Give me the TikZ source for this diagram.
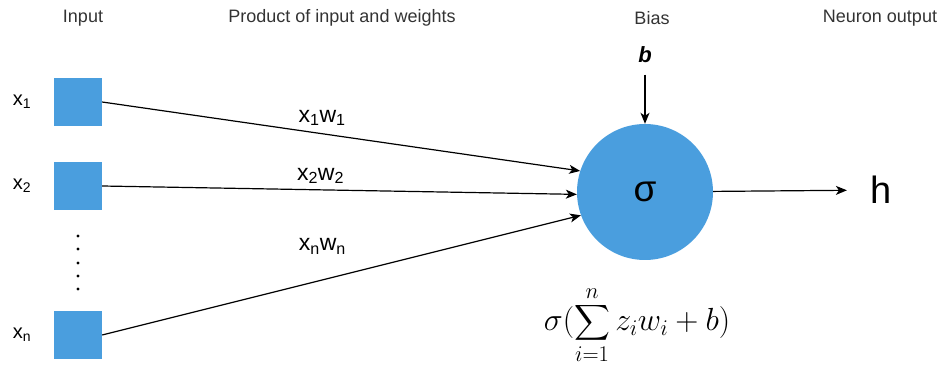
\RequirePackage{fix-cm}
\documentclass[tikz,border=0pt]{standalone}
\usepackage{amsmath}
\usepackage[no-math]{fontspec}
\setmainfont{Liberation Sans}
\usepackage{xcolor}
\usetikzlibrary{arrows.meta, positioning}
\definecolor{nodeblue}{HTML}{4A9EDE}
\definecolor{headgray}{HTML}{333333}

\begin{document}
\begin{tikzpicture}[
            x=1pt, y=-1pt,
            inbox/.style={rectangle, fill=nodeblue, minimum size=48pt, inner sep=0pt},
            neuron/.style={circle, fill=nodeblue, minimum size=136pt, inner sep=0pt, font=\fontsize{37}{40}\selectfont},
            head/.style={font=\fontsize{18}{20}\selectfont, text=headgray},
            xlbl/.style={font=\fontsize{20}{22}\selectfont},
            wlbl/.style={font=\fontsize{23}{25}\selectfont},
            arrow/.style={-{Stealth[length=11pt, width=9pt, inset=3pt]}, line width=1.2pt}
        ]
        \useasboundingbox (0,0) rectangle (940,366);

        % --- Headers ---
        \node[head] (h_input) at (83, 18) {Input};
        \node[head] (h_prod) at (342, 18) {Product of input and weights};
        \node[head] (h_bias) at (652, 18) {Bias};
        \node[head] (h_out) at (880, 18) {Neuron output};

        % --- Inputs ---
        \node[inbox] (in1) at (78, 102) {};
        \node[inbox] (in2) at (78, 186) {};
        \node[inbox] (inn) at (78, 335) {};
        \node[xlbl] (x1) at (22, 102) {x\textsubscript{1}};
        \node[xlbl] (x2) at (22, 186) {x\textsubscript{2}};
        \node[xlbl] (xn) at (22, 335) {x\textsubscript{n}};
        \foreach \y in {236, 249, 263, 276, 289}
            \fill (78, \y) circle (1.6);

        % --- Neuron ---
        \node[neuron] (sig) at (645, 192) {σ};
        \node[font=\rmfamily\bfseries\itshape\fontsize{22}{24}\selectfont] (b) at (645, 55) {b};
        \node[font=\fontsize{38}{42}\selectfont] (h) at (881, 190) {h};
        \node[font=\fontsize{32}{36}\selectfont] (formula) at (637, 325)
            {$\displaystyle\sigma(\sum_{i=1}^{n} z_i w_i + b)$};

        % --- Connectors ---
        \draw[arrow] (in1.east) -- node[wlbl, above=4pt, pos=0.46] {x\textsubscript{1}w\textsubscript{1}} (sig.162);
        \draw[arrow] (in2.east) -- node[wlbl, above=2pt, pos=0.46] {x\textsubscript{2}w\textsubscript{2}} (sig.182);
        \draw[arrow] (inn.east) -- node[wlbl, above=22pt, pos=0.46] {x\textsubscript{n}w\textsubscript{n}} (sig.200);
        \draw[arrow, shorten <=8pt] (b) -- (sig);
        \draw[arrow, shorten >=20pt] (sig) -- (h);

    \end{tikzpicture}
\end{document}
